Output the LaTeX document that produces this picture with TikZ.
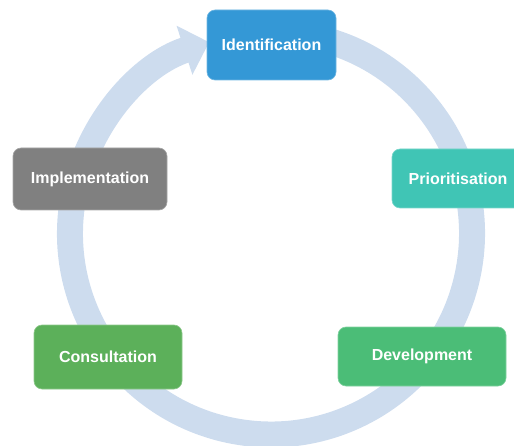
\documentclass[tikz,border=0pt]{standalone}
\usepackage{fontspec}
\setmainfont{Liberation Sans}
\usetikzlibrary{arrows.meta}
\definecolor{ringc}{RGB}{205,220,238}
\definecolor{idc}{RGB}{52,152,214}
\definecolor{implc}{RGB}{128,128,128}
\definecolor{prioc}{RGB}{64,197,181}
\definecolor{consc}{RGB}{92,176,90}
\definecolor{devc}{RGB}{75,189,119}
\tikzset{
  stagebox/.style={rounded corners=8pt, text=white, font=\fontsize{16}{19}\selectfont\bfseries, inner sep=0pt, align=center},
  ring/.style={ringc, line width=26pt, -{Triangle[width=50pt,length=26pt]}}
}
\begin{document}
\begin{tikzpicture}[x=1pt,y=1pt]
\useasboundingbox (0,0) rectangle (514,445);
\clip (0,0) rectangle (514,445);
\coordinate (c) at (271,211.5);
\draw[ring] ([shift={(c)}]78:201pt) arc[start angle=78, end angle=-252.1, radius=201pt];
\node[stagebox, fill=idc, draw=idc!70!white, line width=0.6pt, minimum width=129pt, minimum height=70pt] (id) at (271.5,400) {Identification};
\node[stagebox, fill=implc, draw=implc!70!white, line width=0.6pt, minimum width=154pt, minimum height=62pt] (impl) at (90,266) {Implementation};
\node[stagebox, fill=prioc, draw=prioc!70!white, line width=0.6pt, minimum width=132pt, minimum height=59pt] (prio) at (458,266.5) {Prioritisation};
\node[stagebox, fill=consc, draw=consc!70!white, line width=0.6pt, minimum width=148pt, minimum height=64pt] (cons) at (108,88) {Consultation};
\node[stagebox, fill=devc, draw=devc!70!white, line width=0.6pt, minimum width=168pt, minimum height=59pt] (dev) at (422,88.5) {Development};
\end{tikzpicture}
\end{document}
